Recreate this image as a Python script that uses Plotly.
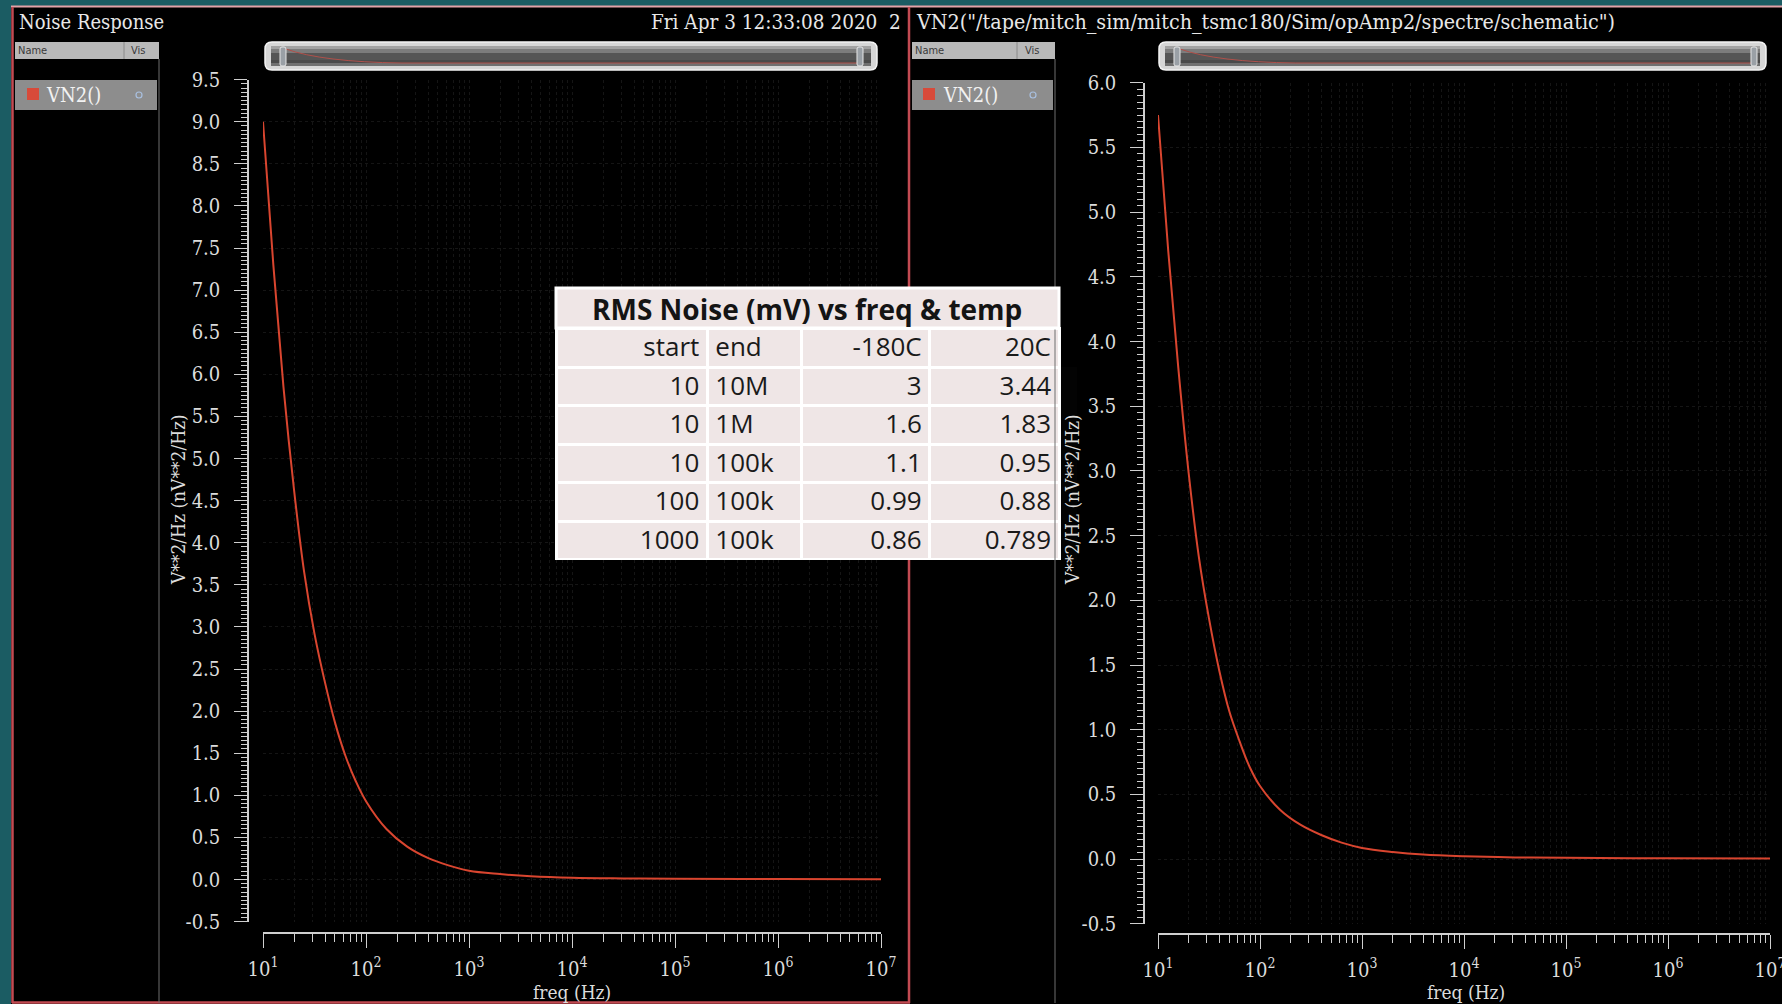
import plotly.graph_objects as go

W, H = 1782, 1004

# ---------------- data ----------------
freq_left = [10, 12.6, 15.8, 20, 25.1, 31.6, 39.8, 50.1, 63.1, 79.4, 100, 158, 251, 398,
             631, 1000, 2000, 3980, 10000, 31600, 1e5, 1e6, 1e7]
vn2_left = [9.0, 7.3, 5.85, 4.63, 3.65, 2.92, 2.35, 1.86, 1.47, 1.17, 0.93, 0.60, 0.39,
            0.256, 0.168, 0.105, 0.065, 0.038, 0.02, 0.013, 0.01, 0.006, 0.004]

freq_right = [10, 12.6, 15.8, 20, 25.1, 31.6, 39.8, 50.1, 63.1, 79.4, 100, 158, 251, 398,
              631, 1000, 2000, 3980, 10000, 31600, 1e5, 1e6, 1e7]
vn2_right = [5.75, 4.7, 3.8, 2.98, 2.34, 1.86, 1.46, 1.14, 0.91, 0.71, 0.565, 0.38, 0.264,
             0.186, 0.127, 0.086, 0.055, 0.035, 0.022, 0.013, 0.01, 0.006, 0.004]

x_tickvals = [10, 100, 1e3, 1e4, 1e5, 1e6, 1e7]
x_ticktext = ["10<sup>1</sup>", "10<sup>2</sup>", "10<sup>3</sup>", "10<sup>4</sup>",
              "10<sup>5</sup>", "10<sup>6</sup>", "10<sup>7</sup>"]

y_left_ticks = [-0.5, 0.0, 0.5, 1.0, 1.5, 2.0, 2.5, 3.0, 3.5, 4.0, 4.5, 5.0, 5.5, 6.0,
                6.5, 7.0, 7.5, 8.0, 8.5, 9.0, 9.5]
y_left_labels = ["-0.5", "0.0", "0.5", "1.0", "1.5", "2.0", "2.5", "3.0", "3.5", "4.0",
                 "4.5", "5.0", "5.5", "6.0", "6.5", "7.0", "7.5", "8.0", "8.5", "9.0", "9.5"]
y_right_ticks = [-0.5, 0.0, 0.5, 1.0, 1.5, 2.0, 2.5, 3.0, 3.5, 4.0, 4.5, 5.0, 5.5, 6.0]
y_right_labels = ["-0.5", "0.0", "0.5", "1.0", "1.5", "2.0", "2.5", "3.0", "3.5", "4.0",
                  "4.5", "5.0", "5.5", "6.0"]
y_left_range = [-0.5, 9.5]
y_right_range = [-0.5, 6.0]

table_title = "RMS Noise (mV) vs freq & temp"
table_header = ["start", "end", "-180C", "20C"]
start_freq = ["10", "10", "10", "100", "1000"]
end_freq = ["10M", "1M", "100k", "100k", "100k"]
rms_m180 = ["3", "1.6", "1.1", "0.99", "0.86"]
rms_20 = ["3.44", "1.83", "0.95", "0.88", "0.789"]

left_title = "Noise Response"
date_text = "Fri Apr 3 12:33:08 2020  2"
right_title = 'VN2("/tape/mitch_sim/mitch_tsmc180/Sim/opAmp2/spectre/schematic")'
y_title = "V**2/Hz (nV**2/Hz)"
x_title = "freq (Hz)"
signal_name = "VN2()"

# ---------------- styling ----------------
SERIF = "DejaVu Serif Condensed, DejaVu Serif, serif"
SANS = "DejaVu Sans Condensed, DejaVu Sans, sans-serif"
TFONT = "Open Sans, Lato, sans-serif"
TXT = "#dcdcdc"
AX = "#cfcfcf"
GRID = "#151515"
CURVE = "#d9452f"
TEAL = "#1b5c63"
PANEL_RED = "#c24a52"
CELL = "#efe6e6"


def px(x):
    return x / W


def py(y):
    return 1 - y / H


fig = go.Figure()

fig.add_trace(go.Scatter(x=freq_left, y=vn2_left, mode="lines", name=signal_name,
                         line=dict(color=CURVE, width=2, shape="spline", smoothing=1.0),
                         xaxis="x", yaxis="y", showlegend=False, hoverinfo="skip"))
fig.add_trace(go.Scatter(x=freq_right, y=vn2_right, mode="lines", name=signal_name,
                         line=dict(color=CURVE, width=2, shape="spline", smoothing=1.0),
                         xaxis="x2", yaxis="y2", showlegend=False, hoverinfo="skip"))

fig.add_trace(go.Table(
    domain=dict(x=[px(556), px(1059)], y=[py(560), py(328)]),
    columnwidth=[151, 94, 128, 129],
    header=dict(values=table_header, height=39,
                fill_color=CELL, line=dict(color="white", width=3),
                align=["right", "left", "right", "right"],
                font=dict(family=TFONT, size=26, color="#1a1a1a")),
    cells=dict(values=[start_freq, end_freq, rms_m180, rms_20], height=38.6,
               fill_color=CELL, line=dict(color="white", width=3),
               align=["right", "left", "right", "right"],
               font=dict(family=TFONT, size=26, color="#1a1a1a")),
))


def xaxis_cfg(x0, x1, ypos):
    return dict(domain=[px(x0), px(x1)], type="log", range=[1, 7], anchor="free",
                position=py(ypos), showline=True, linecolor=AX, linewidth=1.5,
                ticks="outside", ticklen=14, tickwidth=1.2, tickcolor=AX,
                tickmode="array", tickvals=x_tickvals, ticktext=x_ticktext,
                tickfont=dict(family=SERIF, size=20, color=TXT), ticklabelstandoff=4,
                ticklabeloverflow="allow",
                showgrid=True, gridcolor=GRID, griddash="dot", gridwidth=1,
                zeroline=False,
                minor=dict(ticks="outside", ticklen=8, tickwidth=1.2, tickcolor=AX,
                           dtick="D1", showgrid=True, gridcolor=GRID, griddash="dot"))


def yaxis_cfg(y0, y1, rng, xpos, vals, labels):
    return dict(domain=[py(y1), py(y0)], range=rng, anchor="free", position=px(xpos),
                showline=True, linecolor=AX, linewidth=1.5,
                ticks="outside", ticklen=13, tickwidth=1.2, tickcolor=AX,
                tickmode="array", tickvals=vals, ticktext=labels,
                tickfont=dict(family=SERIF, size=20, color=TXT), ticklabelstandoff=10,
                ticklabeloverflow="allow",
                showgrid=True, gridcolor=GRID, griddash="dot", zeroline=False,
                minor=dict(ticks="outside", ticklen=6, tickwidth=1, tickcolor=AX,
                           tickmode="linear", dtick=0.05, tick0=0, showgrid=False))


shapes = []
annotations = []


def rect(x0, y0, x1, y1, fill=None, line=None, lw=1, layer="above"):
    shapes.append(dict(type="rect", xref="paper", yref="paper",
                       x0=px(x0), x1=px(x1), y0=py(y1), y1=py(y0),
                       fillcolor=fill if fill else "rgba(0,0,0,0)",
                       line=dict(color=line if line else "rgba(0,0,0,0)", width=lw if line else 0),
                       layer=layer))


def vline(x, y0, y1, color, lw=1):
    shapes.append(dict(type="line", xref="paper", yref="paper", x0=px(x), x1=px(x),
                       y0=py(y0), y1=py(y1), line=dict(color=color, width=lw), layer="above"))


def hline(y, x0, x1, color, lw=1):
    shapes.append(dict(type="line", xref="paper", yref="paper", x0=px(x0), x1=px(x1),
                       y0=py(y), y1=py(y), line=dict(color=color, width=lw), layer="above"))


def rrect_path(x0, y0, x1, y1, r):
    pts = lambda x, y: f"{px(x):.5f},{py(y):.5f}"
    return (f"M{pts(x0 + r, y0)} L{pts(x1 - r, y0)} Q{pts(x1, y0)} {pts(x1, y0 + r)} "
            f"L{pts(x1, y1 - r)} Q{pts(x1, y1)} {pts(x1 - r, y1)} L{pts(x0 + r, y1)} "
            f"Q{pts(x0, y1)} {pts(x0, y1 - r)} L{pts(x0, y0 + r)} Q{pts(x0, y0)} {pts(x0 + r, y0)} Z")


def path(d, fill=None, line=None, lw=1):
    shapes.append(dict(type="path", xref="paper", yref="paper", path=d,
                       fillcolor=fill if fill else "rgba(0,0,0,0)",
                       line=dict(color=line if line else "rgba(0,0,0,0)", width=lw if line else 0),
                       layer="above"))


def text(x, y, s, size=19, color=TXT, family=SERIF, xanchor="left", angle=0, bold=False):
    annotations.append(dict(xref="paper", yref="paper", x=px(x), y=py(y), text=s,
                            showarrow=False, xanchor=xanchor, yanchor="middle",
                            textangle=angle,
                            font=dict(family=family, size=size, color=color,
                                      weight="bold" if bold else "normal")))


# frame
rect(0, 0, W, 6, fill=TEAL, layer="below")
rect(0, 0, 11, H, fill=TEAL, layer="below")
hline(6.5, 11, W, "#e2a2a8", 2)
# left panel red outline (right edge interrupted by the table overlay)
vline(12.5, 7, 1003, PANEL_RED, 2.5)
hline(1002.5, 12, 910, PANEL_RED, 2.5)
vline(909, 7, 288, PANEL_RED, 2.5)
vline(909, 560, 1003, PANEL_RED, 2.5)

# titles
text(17, 22, left_title, size=20, color="#e8e8e8")
text(903, 22, date_text, size=20.5, color="#e8e8e8", xanchor="right")
text(914, 22, right_title, size=21.3, color="#e8e8e8")


def legend_panel(xl, xr, sep, vis_x, sq_x, name_x, circ_x):
    rect(xl, 42, xr, 59, fill="#b9b9b9")
    vline(sep, 42, 59, "#8a8a8a", 1)
    text(xl + 1, 50.5, "Name", size=11, color="#3a3a3a", family=SANS)
    text(vis_x, 50.5, "Vis", size=11, color="#3a3a3a", family=SANS)
    rect(xl, 80, xr - 2, 110, fill="#8d8d8d")
    rect(sq_x, 88, sq_x + 12, 100, fill="#d84a3a")
    text(name_x, 95, signal_name, size=20, color="#f2f2f2")
    shapes.append(dict(type="circle", xref="paper", yref="paper",
                       x0=px(circ_x - 3), x1=px(circ_x + 3), y0=py(98), y1=py(92),
                       line=dict(color="#a9c0e0", width=1.2), layer="above"))
    vline(xr, 59, 1003, "#6e6e6e", 1)


legend_panel(15, 159, 124, 129, 27, 44, 139)
legend_panel(912, 1055, 1017, 1023, 923, 941, 1033)


def scrollbar(x0, x1, h0, h1):
    path(rrect_path(x0, 42, x1, 70, 7), fill="#d6d6d6", line="#f4f4f4", lw=1.5)
    rect(x0 + 6, 46, x1 - 6, 66, fill="#555555")
    rect(x0 + 6, 46, x1 - 6, 49, fill="#a2a2a2")
    rect(x0 + 6, 49, x1 - 6, 53, fill="#7c7c7c")
    rect(x0 + 6, 60, x1 - 6, 63, fill="#4a4a4a")
    rect(x0 + 6, 63, x1 - 6, 66, fill="#707070")
    path(f"M{px(h0 + 4):.5f},{py(49):.5f} Q{px(h0 + 40):.5f},{py(62):.5f} "
         f"{px(h0 + 120):.5f},{py(63):.5f} L{px(h1):.5f},{py(63):.5f}",
         line="#b0504a", lw=1)
    path(rrect_path(h0 - 2, 47, h0 + 4, 66, 2), fill="#9aa0a6", line="#e8e8e8", lw=1)
    path(rrect_path(h1 - 3, 47, h1 + 3, 66, 2), fill="#9aa0a6", line="#e8e8e8", lw=1)


scrollbar(265, 877, 282, 860)
scrollbar(1159, 1766, 1176, 1754)

# axis titles
text(178, 500, y_title, size=19, xanchor="center", angle=-90)
text(1072, 500, y_title, size=19, xanchor="center", angle=-90)
text(572, 992, x_title, size=19, xanchor="center")
text(1466, 992, x_title, size=19, xanchor="center")

# table title box
rect(556, 288, 1059, 328, fill=CELL, line="white", lw=3)
text(807, 308.5, table_title, size=28, color="#141414", family=TFONT,
     xanchor="center", bold=True)

fig.update_layout(
    width=W, height=H, margin=dict(l=0, r=0, t=0, b=0, pad=0, autoexpand=False),
    paper_bgcolor="black", plot_bgcolor="black",
    xaxis=xaxis_cfg(263, 881, 933),
    yaxis=yaxis_cfg(79.6, 921.6, y_left_range, 248, y_left_ticks, y_left_labels),
    xaxis2=xaxis_cfg(1158, 1770, 934),
    yaxis2=yaxis_cfg(82.7, 923.8, y_right_range, 1144, y_right_ticks, y_right_labels),
    shapes=shapes, annotations=annotations, showlegend=False, hovermode=False,
)

fig.write_html("out.html", config={"displayModeBar": False},
               post_script="document.body.style.margin='0';document.body.style.overflow='hidden';")
